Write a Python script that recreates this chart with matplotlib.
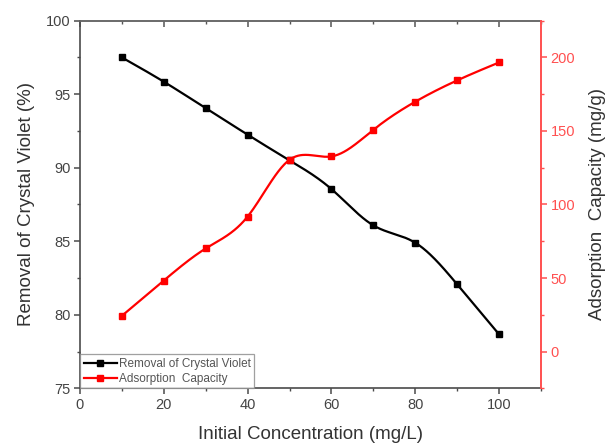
import numpy as np
import matplotlib
matplotlib.use("Agg")
import matplotlib.pyplot as plt
from matplotlib.ticker import MultipleLocator

plt.rcParams['font.family'] = ['Liberation Sans', 'DejaVu Sans']

concentration = [10, 20, 30, 40, 50, 60, 70, 80, 90, 100]
removal = [97.5, 95.85, 94.05, 92.25, 90.5, 88.55, 86.08, 84.9, 82.07, 78.67]
capacity = [24.3, 48.3, 70.1, 91.8, 130.4, 132.7, 150.8, 169.9, 184.4, 196.6]
x_ticks = [0, 20, 40, 60, 80, 100]
left_ticks = [75, 80, 85, 90, 95, 100]
right_ticks = [0, 50, 100, 150, 200]


def natural_spline(x, y, n=500):
    x = np.asarray(x, float)
    y = np.asarray(y, float)
    k = len(x)
    h = np.diff(x)
    A = np.zeros((k, k))
    b = np.zeros(k)
    A[0, 0] = 1
    A[-1, -1] = 1
    for i in range(1, k - 1):
        A[i, i - 1] = h[i - 1]
        A[i, i] = 2 * (h[i - 1] + h[i])
        A[i, i + 1] = h[i]
        b[i] = 6 * ((y[i + 1] - y[i]) / h[i] - (y[i] - y[i - 1]) / h[i - 1])
    M = np.linalg.solve(A, b)
    xs = np.linspace(x[0], x[-1], n)
    idx = np.clip(np.searchsorted(x, xs) - 1, 0, k - 2)
    x0, x1 = x[idx], x[idx + 1]
    y0, y1 = y[idx], y[idx + 1]
    M0, M1 = M[idx], M[idx + 1]
    hh = x1 - x0
    t0 = x1 - xs
    t1 = xs - x0
    ys = (M0 * t0 ** 3 + M1 * t1 ** 3) / (6 * hh) + (y0 / hh - M0 * hh / 6) * t0 + (y1 / hh - M1 * hh / 6) * t1
    return xs, ys


fig = plt.figure(figsize=(6.06, 4.45), dpi=100)
ax = fig.add_axes([0.132, 0.1274, 0.7607, 0.8261])
ax2 = ax.twinx()

axis_gray = '#4a4a4a'
red = '#ff0000'
light_red = '#ff5050'

xs, ys = natural_spline(concentration, removal)
ax.plot(xs, ys, color='black', lw=1.6, zorder=3)
ax.plot(concentration, removal, 's', color='black', ms=4.5, zorder=4)
h1, = ax.plot([], [], '-s', color='black', lw=1.6, ms=4.5, label='Removal of Crystal Violet')

xs2, ys2 = natural_spline(concentration, capacity)
ax2.plot(xs2, ys2, color=red, lw=1.6, zorder=3)
ax2.plot(concentration, capacity, 's', color=red, ms=4.5, zorder=4)
h2, = ax2.plot([], [], '-s', color=red, lw=1.6, ms=4.5, label='Adsorption  Capacity')

ax.set_xlim(0, 110)
ax.set_ylim(75, 100)
ax2.set_ylim(-25, 225)

ax.set_xticks(x_ticks)
ax.set_yticks(left_ticks)
ax2.set_yticks(right_ticks)
ax.xaxis.set_minor_locator(MultipleLocator(10))
ax.yaxis.set_minor_locator(MultipleLocator(2.5))
ax2.yaxis.set_minor_locator(MultipleLocator(25))

for sp in ['left', 'bottom']:
    ax.spines[sp].set_color(axis_gray)
    ax.spines[sp].set_linewidth(1.2)
ax.spines['top'].set_color('#6a6a6a')
ax.spines['top'].set_linewidth(1.2)
ax.spines['right'].set_visible(False)
for sp in ['left', 'bottom', 'top']:
    ax2.spines[sp].set_visible(False)
ax2.spines['right'].set_color(light_red)
ax2.spines['right'].set_linewidth(1.4)

ax.tick_params(axis='both', which='major', direction='out', length=4, width=1.1,
               color=axis_gray, labelcolor='#444444', labelsize=10.5, pad=3)
ax.tick_params(axis='both', which='minor', direction='out', length=2.5, width=1.0, color=axis_gray)
ax2.tick_params(axis='y', which='major', direction='out', length=4, width=1.1,
                color=light_red, labelcolor=light_red, labelsize=10.5, pad=3)
ax2.tick_params(axis='y', which='minor', direction='out', length=2.5, width=1.0, color=light_red)

# top axis: inward ticks, no labels
top = ax.secondary_xaxis('top')
top.set_xticks(x_ticks)
top.xaxis.set_minor_locator(MultipleLocator(10))
top.tick_params(axis='x', which='major', direction='in', length=4, width=1.1,
                color='#555555', labeltop=False)
top.tick_params(axis='x', which='minor', direction='in', length=2.5, width=1.0, color='#555555')
top.spines['top'].set_color('#6a6a6a')
top.spines['top'].set_linewidth(1.2)

ax.set_xlabel('Initial Concentration (mg/L)', fontsize=13.5, color='#333333', labelpad=10)
ax.set_ylabel('Removal of Crystal Violet (%)', fontsize=13.5, color='#333333', labelpad=8)
ax2.set_ylabel('Adsorption  Capacity (mg/g)', fontsize=13.5, color='#333333', labelpad=10)

leg = ax.legend(handles=[h1, h2], loc='lower left', bbox_to_anchor=(0, 0), borderaxespad=0,
                fontsize=8.5, frameon=True, fancybox=False, handlelength=2.8, handletextpad=0.2,
                borderpad=0.3, labelspacing=0.25, labelcolor='#555555')
leg.get_frame().set_edgecolor('#888888')
leg.get_frame().set_linewidth(0.9)
leg.set_zorder(10)

fig.savefig('out.png', dpi=100)
